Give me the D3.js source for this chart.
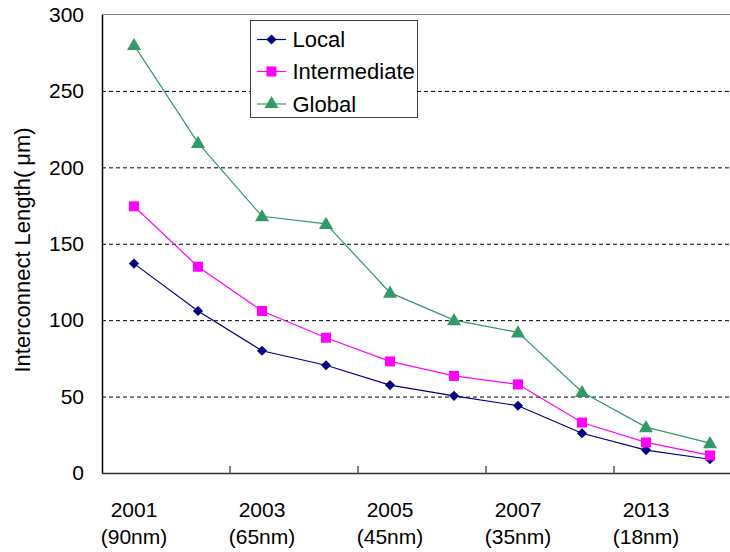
<!DOCTYPE html>
<html>
<head>
<meta charset="utf-8">
<script src="https://cdn.jsdelivr.net/npm/d3@7"></script>
<style>
  html, body { margin: 0; padding: 0; background: #fff; }
  svg { display: block; font-family: "Liberation Sans", Arial, sans-serif; }
</style>
</head>
<body>
<svg id="chart" width="730" height="552"></svg>
<script>
// ---- data ----
const categories = ["2001", "", "2003", "", "2005", "", "2007", "", "2013", ""];
const nodes = ["(90nm)", "", "(65nm)", "", "(45nm)", "", "(35nm)", "", "(18nm)", ""];
const local = [137, 106, 80, 70.5, 57.5, 50.5, 44, 26, 15, 9];
const intermediate = [174.5, 135, 106, 88.5, 73, 63.5, 58, 33, 20, 11.5];
const global = [280, 216, 168, 163, 118, 100, 92, 53, 30, 19.5];
const yTicks = [0, 50, 100, 150, 200, 250, 300];
const seriesNames = ["Local", "Intermediate", "Global"];
const seriesColors = ["#000080", "#FF00FF", "#339966"];
const seriesShapes = [d3.symbolSquare, d3.symbolSquare, d3.symbolTriangle];
const seriesRot = [45, 0, 0];
const seriesSizes = [52, 100, 85];

const series = [local, intermediate, global];

(function () {
const svg = d3.select("#chart");
const pLeft = 102, pTop = 14.5, pBottom = 473, pRight = 742;

const x = d3.scaleBand().domain(d3.range(categories.length)).range([pLeft, pRight]).padding(0);
const cx = i => x(i) + x.bandwidth() / 2;
const y = d3.scaleLinear().domain([0, 300]).range([pBottom, pTop]);

// gridlines
const grid = svg.append("g").attr("transform", `translate(${pLeft},0)`)
  .call(d3.axisLeft(y).tickValues(yTicks.filter(v => v > 0 && v < 300)).tickSize(-(pRight - pLeft)).tickFormat(""));
grid.select(".domain").remove();
grid.selectAll("line").attr("stroke", "#000").attr("stroke-dasharray", "4,3").attr("stroke-width", 1);

// top border
svg.append("line").attr("x1", pLeft).attr("x2", pRight).attr("y1", y(300)).attr("y2", y(300))
  .attr("stroke", "#808080").attr("stroke-width", 1);

// y axis
const yAxis = svg.append("g").attr("transform", `translate(${pLeft},0)`)
  .call(d3.axisLeft(y).tickValues(yTicks).tickSize(0).tickPadding(18));
yAxis.select(".domain").attr("stroke", "#000").attr("stroke-width", 1.5);
yAxis.selectAll("text").attr("font-size", 21).attr("fill", "#000").attr("font-family", "Liberation Sans, Arial, sans-serif");

// x axis
const xAxis = svg.append("g").attr("transform", `translate(0,${pBottom})`)
  .call(d3.axisBottom(x).tickValues(d3.range(0, categories.length, 2)).tickSize(0).tickFormat(""));
xAxis.select(".domain").attr("stroke", "#333").attr("stroke-width", 1.5);
xAxis.selectAll(".tick").each(function(d) {
  const t = d3.select(this).append("text")
    .attr("text-anchor", "middle").attr("font-size", 21).attr("fill", "#000")
    .attr("font-family", "Liberation Sans, Arial, sans-serif");
  t.append("tspan").attr("x", 0).attr("y", 44).text(categories[d]);
  t.append("tspan").attr("x", 0).attr("y", 71).text(nodes[d]);
});
// tick marks at pair boundaries
xAxis.selectAll(".bnd").data(d3.range(2, categories.length, 2)).enter().append("line")
  .attr("x1", d => x(d)).attr("x2", d => x(d)).attr("y1", 0).attr("y2", -7)
  .attr("stroke", "#333").attr("stroke-width", 1.2);

// y axis label
const yl = svg.append("text").attr("transform", "translate(30,250) rotate(-90)")
  .attr("text-anchor", "middle").attr("font-size", 22).attr("fill", "#000");
yl.append("tspan").text("Interconnect Length(");
yl.append("tspan").attr("dx", 5).text("μm)");

// series
const line = d3.line().x((d, i) => cx(i)).y(d => y(d));
series.forEach((vals, s) => {
  const g = svg.append("g");
  g.append("path").datum(vals).attr("d", line).attr("fill", "none")
    .attr("stroke", seriesColors[s]).attr("stroke-width", 1.2);
  g.selectAll("path.m").data(vals).enter().append("path").attr("class", "m")
    .attr("d", d3.symbol().type(seriesShapes[s]).size(seriesSizes[s]))
    .attr("transform", (d, i) => `translate(${cx(i)},${y(d) + (s === 2 ? 1 : 0)}) rotate(${seriesRot[s]})`)
    .attr("fill", seriesColors[s]);
});

// legend
const lg = svg.append("g");
lg.append("rect").attr("x", 250.5).attr("y", 20.5).attr("width", 167).attr("height", 97)
  .attr("fill", "#fff").attr("stroke", "#404040").attr("stroke-width", 1);
const rowY = [39.5, 71.5, 104];
seriesNames.forEach((name, s) => {
  lg.append("line").attr("x1", 257).attr("x2", 286).attr("y1", rowY[s]).attr("y2", rowY[s])
    .attr("stroke", seriesColors[s]).attr("stroke-width", 1.2);
  lg.append("path").attr("d", d3.symbol().type(seriesShapes[s]).size(seriesSizes[s]))
    .attr("transform", `translate(271.5,${rowY[s]}) rotate(${seriesRot[s]})`).attr("fill", seriesColors[s]);
  lg.append("text").attr("x", 292.5).attr("y", rowY[s] + 7.5).attr("font-size", 22).attr("fill", "#000")
    .text(name);
});
})();
</script>
</body>
</html>
